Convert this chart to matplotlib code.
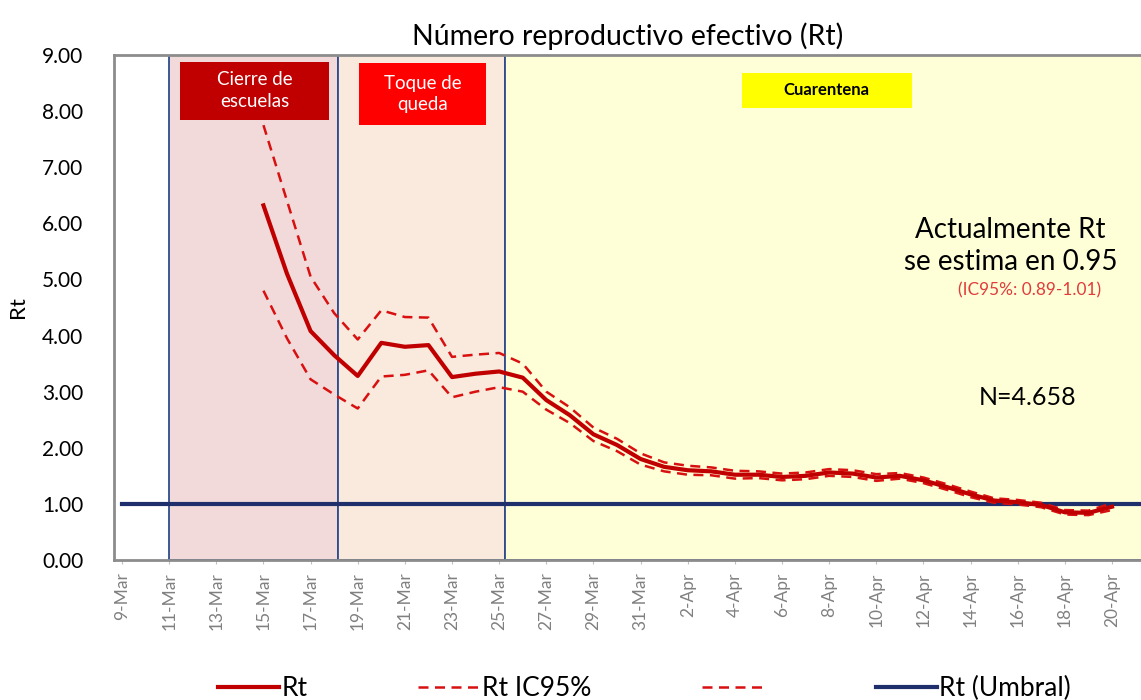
import numpy as np
import matplotlib
matplotlib.use("Agg")
from matplotlib import pyplot as plt
from matplotlib.lines import Line2D
from matplotlib.patches import Rectangle

plt.rcParams['font.family'] = ['Lato', 'DejaVu Sans']

# Etiquetas del eje x (cada 2 días, desde el 9-Mar)
etiquetas = ["9-Mar", "11-Mar", "13-Mar", "15-Mar", "17-Mar", "19-Mar", "21-Mar",
             "23-Mar", "25-Mar", "27-Mar", "29-Mar", "31-Mar", "2-Apr", "4-Apr",
             "6-Apr", "8-Apr", "10-Apr", "12-Apr", "14-Apr", "16-Apr", "18-Apr", "20-Apr"]

# Rt diario desde el 15-Mar hasta el 20-Apr
inicio = 6  # 15-Mar
rt = [6.32, 5.10, 4.08, 3.65, 3.28, 3.87, 3.80, 3.83, 3.26, 3.32, 3.36, 3.25,
      2.85, 2.58, 2.24, 2.05, 1.80, 1.66, 1.60, 1.58, 1.52, 1.52, 1.48, 1.50,
      1.56, 1.54, 1.47, 1.50, 1.42, 1.30, 1.17, 1.06, 1.03, 0.98, 0.85, 0.84, 0.95]
ic_sup = [7.75, 6.40, 5.05, 4.40, 3.93, 4.45, 4.33, 4.32, 3.62, 3.66, 3.69, 3.50,
          3.00, 2.72, 2.36, 2.16, 1.90, 1.74, 1.68, 1.65, 1.59, 1.58, 1.54, 1.56,
          1.62, 1.60, 1.53, 1.55, 1.47, 1.35, 1.22, 1.10, 1.07, 1.02, 0.89, 0.88, 1.01]
ic_inf = [4.80, 3.95, 3.22, 2.95, 2.70, 3.27, 3.30, 3.38, 2.90, 3.00, 3.08, 3.00,
          2.68, 2.44, 2.12, 1.94, 1.70, 1.58, 1.52, 1.51, 1.45, 1.46, 1.42, 1.44,
          1.50, 1.48, 1.41, 1.45, 1.37, 1.25, 1.12, 1.02, 0.99, 0.94, 0.81, 0.80, 0.89]
umbral = 1.0

# Periodos de intervención (en días desde el 9-Mar)
periodos = [(2.0, 9.16, "#F2DADA"), (9.16, 16.25, "#FAE9DD"), (16.25, 44, "#FFFFD7")]

# Cajas de texto de las intervenciones: (x0, x1, y0, y1, color, texto, color texto)
cajas = [(2.46, 8.78, 7.84, 8.88, "#C00000", "Cierre de\nescuelas", "white"),
         (10.06, 15.44, 7.75, 8.86, "#FF0000", "Toque de\nqueda", "white"),
         (26.3, 33.5, 8.06, 8.68, "#FFFF00", "Cuarentena", "black")]

fig = plt.figure(figsize=(11.41, 7.0), dpi=100)
ax = fig.add_axes([114 / 1141, 140 / 700, 1 - 114 / 1141, 505 / 700])

dias = np.arange(inicio, inicio + len(rt))

for a, b, col in periodos:
    ax.add_patch(Rectangle((a, 0), b - a, 9, facecolor=col, edgecolor="#2E4C8C",
                           linewidth=1.3, zorder=0))

ax.plot([0, 44], [umbral, umbral], color="#1F2F6B", linewidth=3, zorder=2)
ax.plot(dias, ic_sup, color="#D81010", linewidth=1.8, linestyle=(0, (4, 2.6)), zorder=3)
ax.plot(dias, ic_inf, color="#D81010", linewidth=1.8, linestyle=(0, (4, 2.6)), zorder=3)
ax.plot(dias, rt, color="#C00000", linewidth=3, zorder=4)

ax.set_xlim(-0.34, 43.23)
ax.set_ylim(0, 9)
ax.set_yticks(np.arange(0, 9.5, 1))
ax.set_yticklabels([f"{v:.2f}" for v in np.arange(0, 9.5, 1)], fontsize=15)
ax.set_xticks(np.arange(0, 43, 2))
ax.set_xticklabels(etiquetas, rotation=90, fontsize=12.5, color="#808080")
ax.tick_params(axis="y", length=0, pad=22)
ax.tick_params(axis="x", length=3, pad=6, color="#BFBFBF")
for s in ["left", "top", "bottom"]:
    ax.spines[s].set_color("#8C8C8C")
    ax.spines[s].set_linewidth(2)
ax.spines["right"].set_visible(False)
ax.set_ylabel("Rt", fontsize=16, labelpad=10)

ax.set_title("Número reproductivo efectivo (Rt)", fontsize=20.5, pad=7)

for x0, x1, y0, y1, col, txt, tcol in cajas:
    ax.add_patch(Rectangle((x0, y0), x1 - x0, y1 - y0, facecolor=col,
                           edgecolor="none", zorder=5))
    negrita = "bold" if tcol == "black" else "normal"
    tam = 12 if tcol == "black" else 13.5
    ax.text((x0 + x1) / 2, (y0 + y1) / 2, txt, ha="center", va="center", color=tcol,
            fontsize=tam, fontweight=negrita, linespacing=1.35, zorder=6)

ax.text(37.7, 5.6, "Actualmente Rt\nse estima en 0.95", ha="center", va="center",
        fontsize=20, linespacing=1.3)
ax.text(38.5, 4.81, "(IC95%: 0.89-1.01)", ha="center", va="center",
        fontsize=12.4, color="#E03C3C")
ax.text(38.4, 2.9, "N=4.658", ha="center", va="center", fontsize=18)

handles = [Line2D([], [], color="#C00000", linewidth=3),
           Line2D([], [], color="#D81010", linewidth=1.8, linestyle=(0, (4, 2.6))),
           Line2D([], [], color="#D81010", linewidth=1.8, linestyle=(0, (4, 2.6))),
           Line2D([], [], color="#1F2F6B", linewidth=3)]
fig.legend(handles, ["Rt", "Rt IC95%", "", "Rt (Umbral)"], loc="lower center",
           bbox_to_anchor=(0.565, -0.035), ncol=4, frameon=False, fontsize=19,
           handlelength=2.3, handletextpad=0.1, columnspacing=4.2)

fig.savefig("out.png", dpi=100)
